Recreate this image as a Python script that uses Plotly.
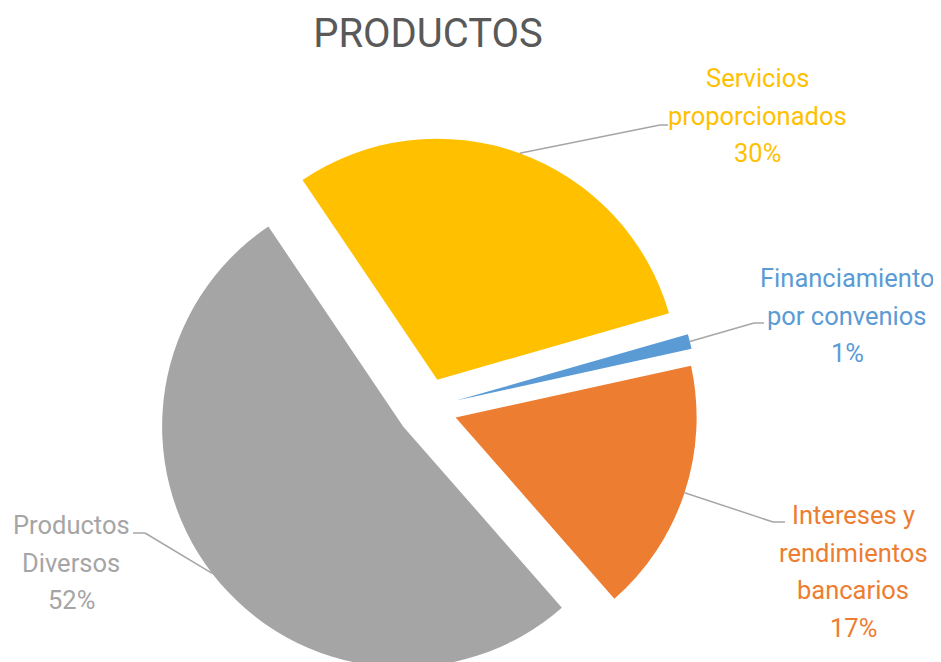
import math
import plotly.graph_objects as go

# ---------------- data ----------------
categories = [
    "Servicios proporcionados",
    "Financiamiento por convenios",
    "Intereses y rendimientos bancarios",
    "Productos Diversos",
]
values = [30, 1, 17, 52]
label_lines = [
    ["Servicios", "proporcionados"],
    ["Financiamiento", "por convenios"],
    ["Intereses y", "rendimientos", "bancarios"],
    ["Productos", "Diversos"],
]
colors = ["#FFC000", "#5B9BD5", "#ED7D31", "#A5A5A5"]
chart_title = "PRODUCTOS"

# ---------------- layout parameters (page pixels) ----------------
OFF = 8                      # default page margin around the figure
W, H = 941 - OFF, 680 - OFF  # figure size
CX, CY, R = 427, 408, 241    # pie centre and radius (page px)
PULL = 0.125
ROTATION = -34
FONT = "Roboto"
LABEL_SIZE = 25.5
LINE_STEP = 37.5
# label block: text centre x, first line y, elbow (x, y), end x
label_pos = [
    (757, 78, 660, 125, 668),
    (847, 278, 754, 323, 764),
    (853, 515, 773, 522, 785),
    (71, 525, 145, 533, 133),
]
LEADER = "#A6A6A6"


def px(x, y):
    return (x - OFF) / W, 1 - (y - OFF) / H


half = R * (1 + PULL)
fig = go.Figure(
    go.Pie(
        labels=categories,
        values=values,
        sort=False,
        direction="clockwise",
        rotation=ROTATION,
        pull=[PULL] * len(values),
        marker=dict(colors=colors, line=dict(width=0)),
        textinfo="none",
        hoverinfo="label+percent",
        showlegend=False,
        domain=dict(
            x=[px(CX - half, 0)[0], px(CX + half, 0)[0]],
            y=[px(0, CY + half)[1], px(0, CY - half)[1]],
        ),
    )
)

total = sum(values)
annotations = []
shapes = []
cum = 0
for i, v in enumerate(values):
    mid = math.radians(ROTATION + (cum + v / 2) / total * 360)
    cum += v
    ax = CX + half * math.sin(mid)
    ay = CY - half * math.cos(mid)
    tx, ty0, ex, ey, endx = label_pos[i]
    lines = label_lines[i] + [f"{round(v / total * 100)}%"]
    for k, line in enumerate(lines):
        x, y = px(tx, ty0 + k * LINE_STEP)
        annotations.append(
            dict(
                x=x, y=y, xref="paper", yref="paper", text=line,
                showarrow=False, xanchor="center", yanchor="middle",
                font=dict(family=FONT, size=LABEL_SIZE, color=colors[i]),
            )
        )
    for (x0, y0, x1, y1) in [(ax, ay, ex, ey), (ex, ey, endx, ey)]:
        p0 = px(x0, y0)
        p1 = px(x1, y1)
        shapes.append(
            dict(
                type="line", xref="paper", yref="paper",
                x0=p0[0], y0=p0[1], x1=p1[0], y1=p1[1],
                line=dict(color=LEADER, width=1.5),
            )
        )

tx, ty = px(428, 33)
fig.update_layout(
    width=W,
    height=H,
    margin=dict(l=0, r=0, t=0, b=0),
    paper_bgcolor="white",
    plot_bgcolor="white",
    title=dict(
        text=chart_title,
        x=tx,
        xanchor="center",
        y=ty,
        yanchor="middle",
        font=dict(family=FONT, size=40, color="#595959"),
    ),
    annotations=annotations,
    shapes=shapes,
)

fig.write_html("out.html")
